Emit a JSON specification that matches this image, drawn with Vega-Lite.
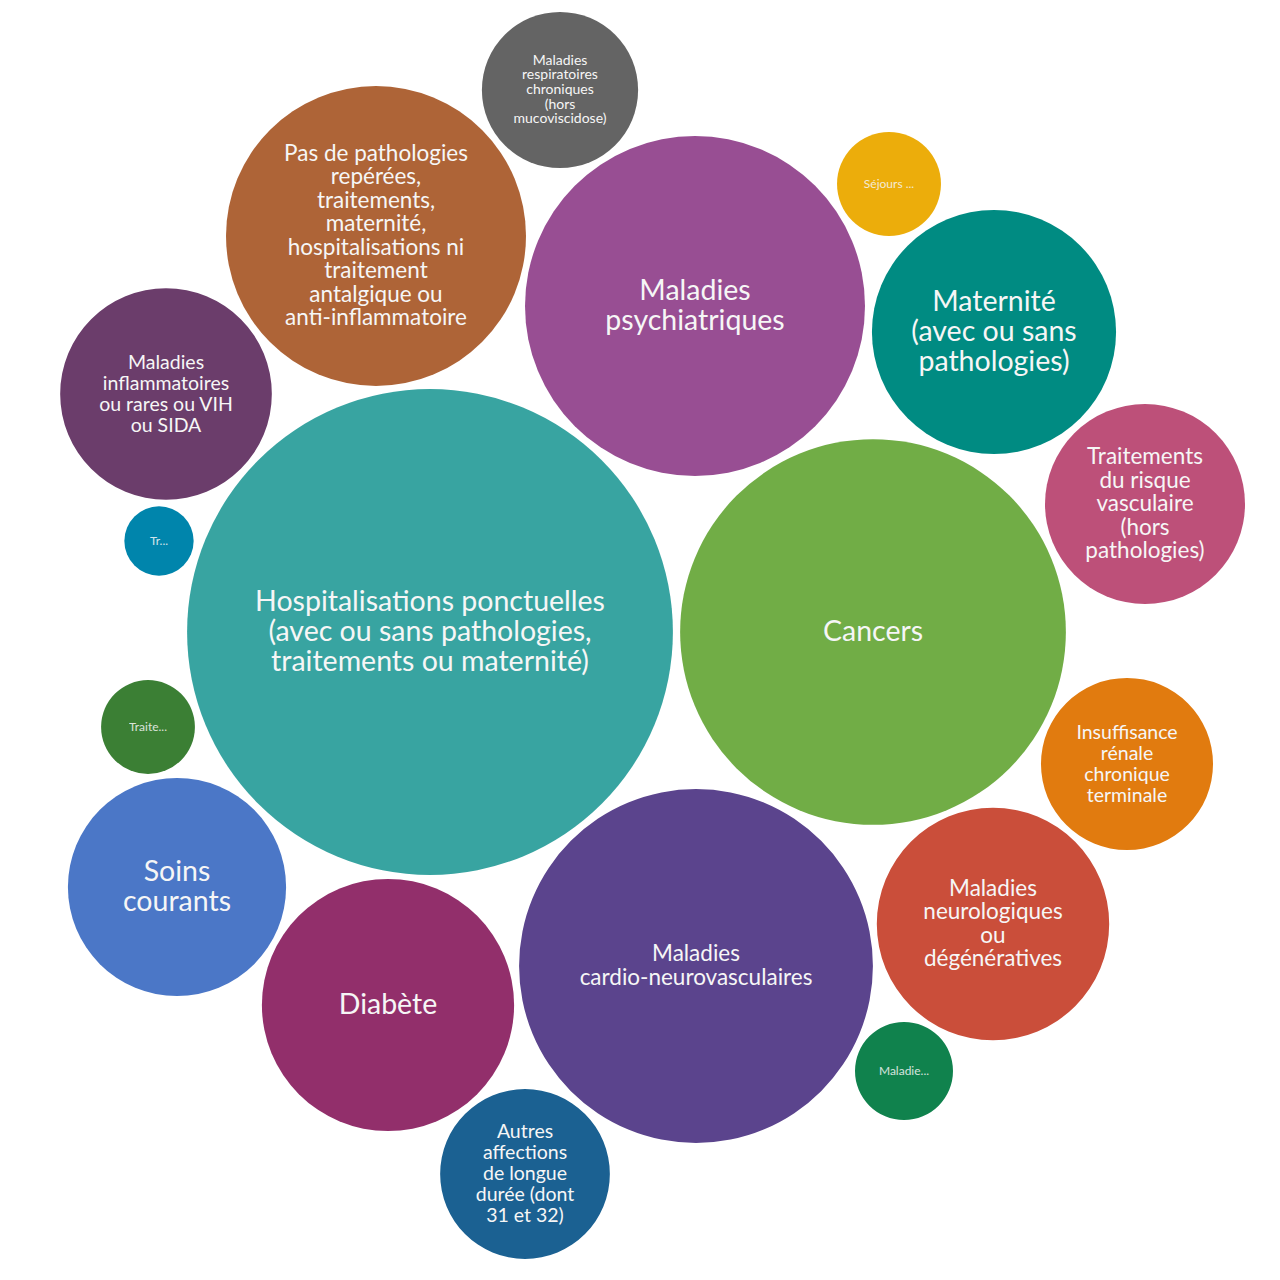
{
  "$schema": "https://vega.github.io/schema/vega-lite/v6.json",
  "width": 1280,
  "height": 1280,
  "autosize": {"type": "fit", "contains": "padding"},
  "padding": 0,
  "background": "white",
  "config": {"view": {"stroke": null}, "text": {"font": "Lato", "align": "center", "baseline": "middle", "color": "#f6f6f6", "lineBreak": "\n"}},
  "data": {"values": [
    {"label": "Hospitalisations ponctuelles\n(avec ou sans pathologies,\ntraitements ou maternité)", "x": 430, "y": 632, "value": 590},
    {"label": "Cancers", "x": 873, "y": 632, "value": 372},
    {"label": "Maladies\ncardio-neurovasculaires", "x": 696, "y": 966, "value": 313},
    {"label": "Maladies\npsychiatriques", "x": 695, "y": 306, "value": 289},
    {"label": "Pas de pathologies\nrepérées,\ntraitements,\nmaternité,\nhospitalisations ni\ntraitement\nantalgique ou\nanti-inflammatoire", "x": 376, "y": 236, "value": 225},
    {"label": "Diabète", "x": 388, "y": 1005, "value": 159},
    {"label": "Maternité\n(avec ou sans\npathologies)", "x": 994, "y": 332, "value": 149},
    {"label": "Maladies\nneurologiques\nou\ndégénératives", "x": 993, "y": 924, "value": 135},
    {"label": "Soins\ncourants", "x": 177, "y": 887, "value": 119},
    {"label": "Maladies\ninflammatoires\nou rares ou VIH\nou SIDA", "x": 166, "y": 394, "value": 112},
    {"label": "Traitements\ndu risque\nvasculaire\n(hors\npathologies)", "x": 1145, "y": 504, "value": 100},
    {"label": "Insuffisance\nrénale\nchronique\nterminale", "x": 1127, "y": 764, "value": 74},
    {"label": "Autres\naffections\nde longue\ndurée (dont\n31 et 32)", "x": 525, "y": 1174, "value": 72},
    {"label": "Maladies\nrespiratoires\nchroniques\n(hors\nmucoviscidose)", "x": 560, "y": 90, "value": 61},
    {"label": "Séjours ...", "x": 889, "y": 184, "value": 27},
    {"label": "Maladie...", "x": 904, "y": 1071, "value": 24},
    {"label": "Traite...", "x": 148, "y": 727, "value": 22},
    {"label": "Tr...", "x": 159, "y": 541, "value": 12}
  ]},
  "encoding": {
    "x": {"field": "x", "type": "quantitative", "scale": {"domain": [0, 1280], "nice": false}, "axis": null},
    "y": {"field": "y", "type": "quantitative", "scale": {"domain": [0, 1280], "nice": false, "reverse": true}, "axis": null},
    "text": {"field": "label"}
  },
  "layer": [
    {
      "mark": {"type": "circle", "opacity": 1, "stroke": null},
      "encoding": {
        "size": {"field": "value", "type": "quantitative", "scale": {"domain": [0, 590], "range": [0, 236000]}, "legend": null},
        "color": {"field": "label", "type": "nominal", "legend": null, "scale": {
          "domain": [
            "Hospitalisations ponctuelles\n(avec ou sans pathologies,\ntraitements ou maternité)",
            "Cancers",
            "Maladies\ncardio-neurovasculaires",
            "Maladies\npsychiatriques",
            "Pas de pathologies\nrepérées,\ntraitements,\nmaternité,\nhospitalisations ni\ntraitement\nantalgique ou\nanti-inflammatoire",
            "Diabète",
            "Maternité\n(avec ou sans\npathologies)",
            "Maladies\nneurologiques\nou\ndégénératives",
            "Soins\ncourants",
            "Maladies\ninflammatoires\nou rares ou VIH\nou SIDA",
            "Traitements\ndu risque\nvasculaire\n(hors\npathologies)",
            "Insuffisance\nrénale\nchronique\nterminale",
            "Autres\naffections\nde longue\ndurée (dont\n31 et 32)",
            "Maladies\nrespiratoires\nchroniques\n(hors\nmucoviscidose)",
            "Séjours ...",
            "Maladie...",
            "Traite...",
            "Tr..."
          ],
          "range": ["#38a4a1", "#71ad46", "#5b448d", "#984e93", "#ae6437", "#922f6b", "#008b82", "#ca4e3a", "#4b77c7", "#6b3d6b", "#bd5079", "#e17b0f", "#1b6192", "#646464", "#ecad0b", "#10824d", "#3b7f34", "#0085ac"]
        }}
      }
    },
    {
      "transform": [{"filter": {"field": "label", "oneOf": [
        "Hospitalisations ponctuelles\n(avec ou sans pathologies,\ntraitements ou maternité)",
        "Maternité\n(avec ou sans\npathologies)"
      ]}}],
      "mark": {"type": "text", "fontSize": 28.5, "lineHeight": 30, "dy": -30}
    },
    {
      "transform": [{"filter": {"field": "label", "oneOf": ["Maladies\npsychiatriques", "Soins\ncourants"]}}],
      "mark": {"type": "text", "fontSize": 28.5, "lineHeight": 30, "dy": -15}
    },
    {
      "transform": [{"filter": {"field": "label", "oneOf": ["Cancers", "Diabète"]}}],
      "mark": {"type": "text", "fontSize": 28.5, "lineHeight": 30, "dy": 0}
    },
    {
      "transform": [{"filter": {"field": "label", "oneOf": ["Pas de pathologies\nrepérées,\ntraitements,\nmaternité,\nhospitalisations ni\ntraitement\nantalgique ou\nanti-inflammatoire"]}}],
      "mark": {"type": "text", "fontSize": 22.5, "lineHeight": 23.5, "dy": -82.25}
    },
    {
      "transform": [{"filter": {"field": "label", "oneOf": ["Maladies\ncardio-neurovasculaires"]}}],
      "mark": {"type": "text", "fontSize": 22.5, "lineHeight": 23.5, "dy": -11.75}
    },
    {
      "transform": [{"filter": {"field": "label", "oneOf": ["Maladies\nneurologiques\nou\ndégénératives"]}}],
      "mark": {"type": "text", "fontSize": 22.5, "lineHeight": 23.5, "dy": -35.25}
    },
    {
      "transform": [{"filter": {"field": "label", "oneOf": ["Traitements\ndu risque\nvasculaire\n(hors\npathologies)"]}}],
      "mark": {"type": "text", "fontSize": 22.5, "lineHeight": 23.5, "dy": -47}
    },
    {
      "transform": [{"filter": {"field": "label", "oneOf": ["Maladies\ninflammatoires\nou rares ou VIH\nou SIDA", "Insuffisance\nrénale\nchronique\nterminale"]}}],
      "mark": {"type": "text", "fontSize": 19.5, "lineHeight": 21, "dy": -31.5}
    },
    {
      "transform": [{"filter": {"field": "label", "oneOf": ["Autres\naffections\nde longue\ndurée (dont\n31 et 32)"]}}],
      "mark": {"type": "text", "fontSize": 19.5, "lineHeight": 21, "dy": -42}
    },
    {
      "transform": [{"filter": {"field": "label", "oneOf": ["Maladies\nrespiratoires\nchroniques\n(hors\nmucoviscidose)"]}}],
      "mark": {"type": "text", "fontSize": 14, "lineHeight": 14.7, "dy": -29.4}
    },
    {
      "transform": [{"filter": {"field": "label", "oneOf": ["Séjours ...", "Maladie...", "Traite...", "Tr..."]}}],
      "mark": {"type": "text", "fontSize": 12, "opacity": 0.85}
    }
  ]
}
